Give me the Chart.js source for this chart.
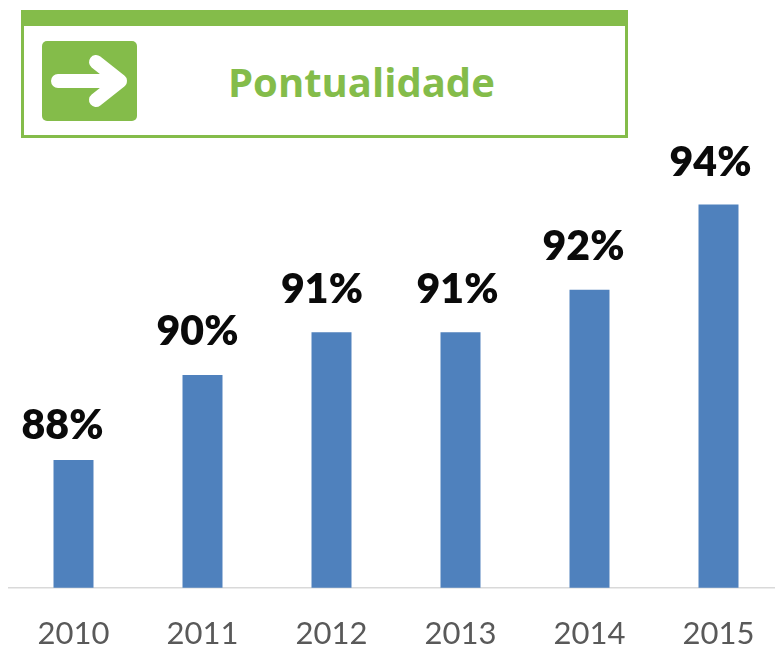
<!DOCTYPE html>
<html>
<head>
<meta charset="utf-8">
<script src="https://cdn.jsdelivr.net/npm/chart.js@4"></script>
<style>
html,body{margin:0;padding:0;background:#fff;overflow:hidden;width:775px;height:645px}
#wrap{position:absolute;left:0;top:0;width:800px;height:681px}
#hdr{position:absolute;left:21px;top:10px;width:607px;height:128px;box-sizing:border-box;border:3px solid #84bc4a;border-top:16px solid #84bc4a;background:#fff;z-index:2}
#hdr svg{position:absolute;left:18px;top:15px}
#hdr div{position:absolute;left:204px;top:30px;font:bold 40px "Open Sans",sans-serif;color:#84bc4a;line-height:52px;white-space:nowrap}
</style>
</head>
<body>
<div id="wrap"><canvas id="c" width="800" height="681"></canvas></div>
<div id="hdr">
<svg width="95" height="80" viewBox="0 0 95 80"><rect x="0" y="0" width="95" height="80" rx="5" fill="#84bc4a"/>
<path d="M16 40H78M54 21L78 40L54 59" fill="none" stroke="#fff" stroke-width="14" stroke-linecap="round" stroke-linejoin="round"/></svg>
<div>Pontualidade</div>
</div>
<script>
const categories = ["2010","2011","2012","2013","2014","2015"];
const values = [88,90,91,91,92,94];
const labels = ["88%","90%","91%","91%","92%","94%"];

const valueLabels = {
  id:"valueLabels",
  afterDatasetsDraw(chart,args,opts){
    const c = chart.ctx;
    c.save();
    c.font = '800 41px Lato, sans-serif';
    c.fillStyle = '#0a0a0a';
    c.textAlign = 'center';
    c.textBaseline = 'alphabetic';
    chart.getDatasetMeta(0).data.forEach((b,i)=>c.fillText(labels[i], b.x+opts.dx[i], b.y-opts.gap[i]));
    c.restore();
  }
};
new Chart(document.getElementById('c'),{
  type:'bar',
  data:{labels:categories,datasets:[{data:values,backgroundColor:'#4f81bd',barPercentage:0.31,categoryPercentage:1}]},
  options:{
    responsive:false,animation:false,
    layout:{padding:{left:9,right:17,top:162,bottom:0}},
    plugins:{legend:{display:false},tooltip:{enabled:false},
      valueLabels:{dx:[-11,-5,-9.5,-3,-6,-8],gap:[21,30,29,29,30,29]}},
    scales:{
      y:{display:false,min:85,max:95,grid:{display:false}},
      x:{grid:{display:false,drawTicks:false},border:{color:'#d9d9d9',width:1.5},
         ticks:{color:'#595959',font:{family:'Lato, sans-serif',size:31},padding:28,maxRotation:0}}
    }
  },
  plugins:[valueLabels]
});
</script>
</body>
</html>
